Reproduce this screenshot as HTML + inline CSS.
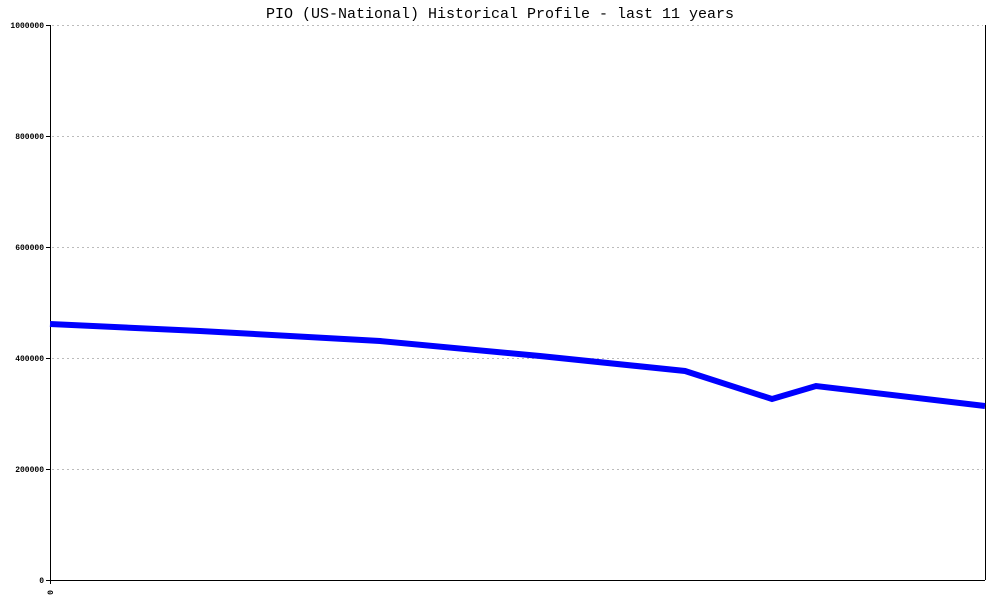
<!DOCTYPE html>
<html><head><style>body{margin:0;background:#fff}</style></head><body>
<svg width="1000" height="600" xmlns="http://www.w3.org/2000/svg">
<rect width="1000" height="600" fill="#fff"/>
<text x="500" y="18" text-anchor="middle" font-family="Liberation Mono, monospace" font-size="15">PIO (US-National) Historical Profile - last 11 years</text>
<g stroke="#bbb" stroke-dasharray="2,3" stroke-width="1">
<line x1="52" y1="25.5" x2="983" y2="25.5"/>
<line x1="52" y1="136.5" x2="983" y2="136.5"/>
<line x1="52" y1="247.5" x2="983" y2="247.5"/>
<line x1="52" y1="358.5" x2="983" y2="358.5"/>
<line x1="52" y1="469.5" x2="983" y2="469.5"/>
</g>
<g stroke="#000" stroke-width="1">
<line x1="50.5" y1="25" x2="50.5" y2="584"/>
<line x1="985.5" y1="25" x2="985.5" y2="580"/>
<line x1="46" y1="580.5" x2="985" y2="580.5"/>
<line x1="46" y1="25.5" x2="50" y2="25.5"/>
<line x1="46" y1="136.5" x2="50" y2="136.5"/>
<line x1="46" y1="247.5" x2="50" y2="247.5"/>
<line x1="46" y1="358.5" x2="50" y2="358.5"/>
<line x1="46" y1="469.5" x2="50" y2="469.5"/>
</g>
<g font-family="Liberation Mono, monospace" font-size="8" font-weight="bold" text-anchor="end">
<text x="44" y="28">1000000</text>
<text x="44" y="139">800000</text>
<text x="44" y="250">600000</text>
<text x="44" y="361">400000</text>
<text x="44" y="472">200000</text>
<text x="44" y="583">0</text>
<text transform="translate(53,590) rotate(-90)" text-anchor="end">0</text>
</g>
<polyline fill="none" stroke="#0000ff" stroke-width="6" points="50,324 200,331 380,341 540,356 685,371 772,399 816,386 985,406"/>
</svg>
</body></html>
